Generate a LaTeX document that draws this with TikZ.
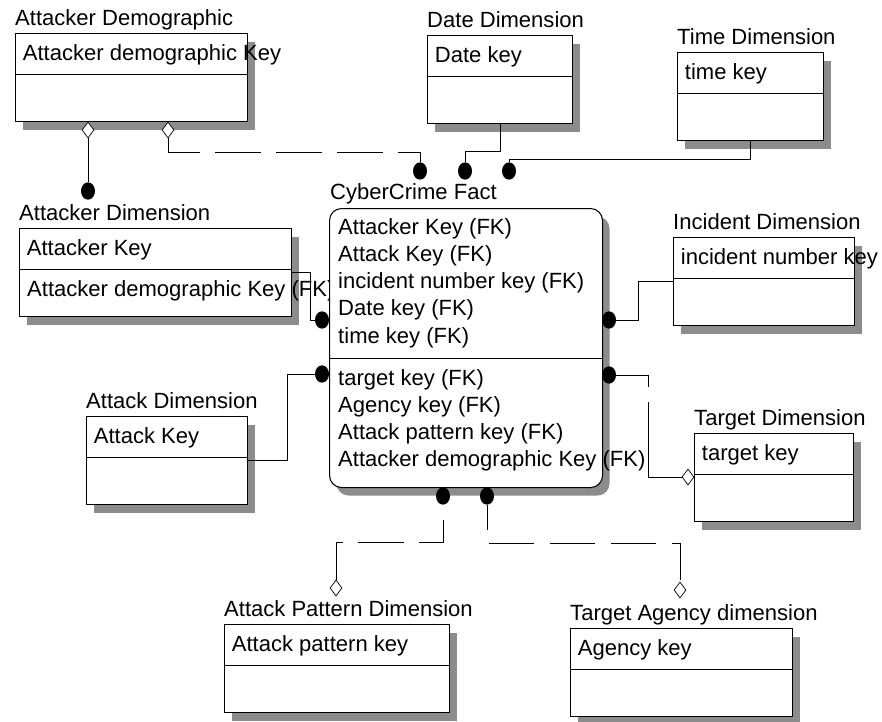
\documentclass[tikz,border=0pt]{standalone}
\usepackage{fontspec}
\setmainfont{Liberation Sans}
\usetikzlibrary{shapes.geometric,shadows}

\begin{document}
\begin{tikzpicture}[x=0.3mm,y=-0.3mm,
    font=\fontsize{18.8}{22}\selectfont,
    entity/.style={draw, fill=white, line width=0.9pt, anchor=north west, inner sep=0pt,
        minimum height=26.4mm,
        drop shadow={shadow xshift=2.1mm, shadow yshift=-2.4mm, fill=black!45, opacity=1}},
    enttitle/.style={anchor=base west, inner sep=0pt},
    keytext/.style={anchor=base west, inner sep=0pt},
    fkend/.style={ellipse, fill=black, inner sep=0pt, minimum width=4.2mm, minimum height=5.2mm},
    agg/.style={diamond, draw, fill=white, inner sep=0pt, line width=0.6pt,
        minimum width=3.6mm, minimum height=4.8mm},
    rel/.style={line width=0.6pt},
    nonid/.style={rel, dash pattern=on 39pt off 13pt}]

    \useasboundingbox (0,0) rectangle (882,721);

    % dimension tables
    \foreach \n/\x/\y/\w/\t/\k in {
        ademo/15/33/232/Attacker Demographic/Attacker demographic Key,
        date/427/35/145/Date Dimension/Date key,
        time/677/52/146/Time Dimension/time key,
        attacker/19/228/272/Attacker Dimension/Attacker Key,
        incident/673/237/181/Incident Dimension/incident number key,
        attack/86/416/161/Attack Dimension/Attack Key,
        target/694/433/159/Target Dimension/target key,
        pattern/224/624/225/Attack Pattern Dimension/Attack pattern key,
        agency/570/628/222/Target Agency dimension/Agency key}
    {
        \node[entity, minimum width=\w*0.3mm] (\n) at (\x,\y) {};
        \draw[line width=0.8pt] ([yshift=-12.3mm]\n.north west) -- ([yshift=-12.3mm]\n.north east);
        \node[enttitle] (\n-title) at ([yshift=2.2mm]\n.north west) {\t};
        \node[keytext] (\n-key) at ([xshift=2.3mm,yshift=-8.2mm]\n.north west) {\k};
    }
    \node[keytext] (attacker-fk) at (27,296) {Attacker demographic Key (FK)};

    % fact table
    \node[entity, rounded corners=3.6mm, minimum width=81.9mm, minimum height=83.7mm] (fact) at (329,208) {};
    \draw[line width=0.8pt] (fact.west |- 0,358) -- (fact.east |- 0,358);
    \node[enttitle] (fact-title) at (330,199) {CyberCrime Fact};
    \foreach \r [count=\i] in {Attacker Key (FK), Attack Key (FK), incident number key (FK),
        Date key (FK), time key (FK)}
        \node[keytext] (fact-a\i) at (338,{234+27.3*(\i-1)}) {\r};
    \foreach \r [count=\i] in {target key (FK), Agency key (FK), Attack pattern key (FK),
        Attacker demographic Key (FK)}
        \node[keytext] (fact-b\i) at (338,{385+27.3*(\i-1)}) {\r};

    % relationship ends
    \node[fkend] (e1) at (88,191) {};
    \node[fkend] (e2) at (420,171) {};
    \node[fkend] (e3) at (465,171) {};
    \node[fkend] (e4) at (509,171) {};
    \node[fkend] (e5) at (322,320) {};
    \node[fkend] (e6) at (322,374) {};
    \node[fkend] (e7) at (609,320) {};
    \node[fkend] (e8) at (609,375) {};
    \node[fkend] (e9) at (443,496) {};
    \node[fkend] (e10) at (487,496) {};

    \node[agg] (d1) at (88,130) {};
    \node[agg] (d2) at (168,130) {};
    \node[agg] (d3) at (688,477) {};
    \node[agg] (d4) at (336,588) {};
    \node[agg] (d5) at (680,590) {};

    % relationships
    \draw[rel] (d1) -- (e1);
    \draw[nonid] (d2) -- (d2 |- 0,152) -| (e2);
    \draw[rel] (date.south) -- (date.south |- 0,151) -| (e3);
    \draw[rel] (time.south) -- (time.south |- 0,159) -| (e4);
    \draw[rel] (attacker.east |- 0,272) -- (310,272) |- (e5);
    \draw[rel] (attack.east |- 0,460) -- (287,460) |- (e6);
    \draw[rel] (incident.west |- 0,281) -- (638,281) |- (e7);
    \draw[rel, dash pattern=on 37pt off 13.5pt on 100pt] (e8) -- (e8 -| 648,0) |- (d3);
    \draw[nonid, dash phase=39pt] (e9) -- (e9 |- 0,542) -| (d4);
    \draw[nonid, dash phase=18pt] (e10) -- (e10 |- 0,543) -| (d5);
\end{tikzpicture}
\end{document}
